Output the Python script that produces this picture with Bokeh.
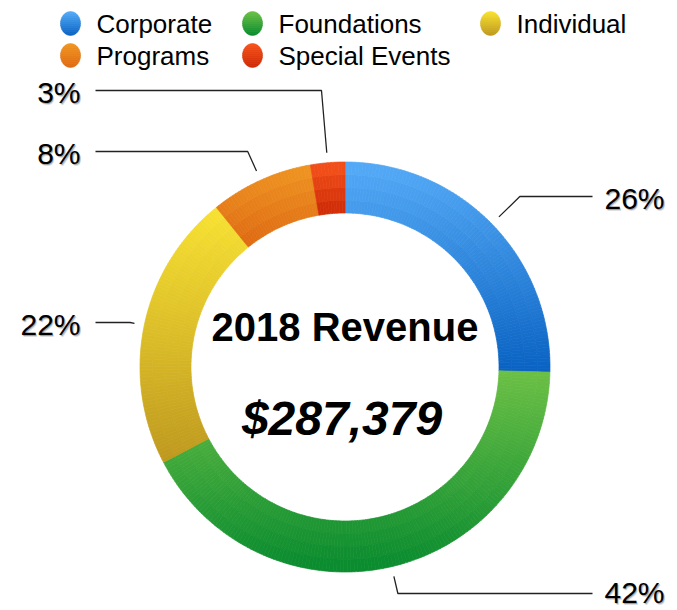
import math
import numpy as np
from bokeh.plotting import figure
from bokeh.models import Range1d
from bokeh.core.properties import value
from bokeh.embed import file_html
from bokeh.resources import INLINE

# ---------------- data ----------------
categories = ["Corporate", "Foundations", "Individual", "Programs", "Special Events"]
shares = [25.4, 41.9, 21.9, 8.1, 2.7]          # percent of 2018 revenue
pct_labels = ["26%", "42%", "22%", "8%", "3%"]
title_text = "2018 Revenue"
total_text = "$287,379"

# ---------------- styles ----------------
top_colors = ["#55ABF7", "#6CC045", "#F8E232", "#EF9622", "#F6531C"]
bottom_colors = ["#0962C2", "#078A2E", "#BE981E", "#DE6812", "#CC2805"]
FONT = "Liberation Sans"

W, H = 677, 610
CX, CY_IMG = 344.5, 366.5
R_IN, R_OUT = 154.0, 205.0
R_LEAD = 215.0

# layout of leader lines / labels (image pixel rows)
leader_y = [196, 593, 322, 151, 90]
right_end_x, right_text_x = 592, 604
left_end_x, left_text_x = 95, 80

# legend layout
legend_x = [70, 252, 490, 70, 252]
legend_y = [23, 23, 23, 55, 55]


def Y(y_img):
    return 610.0 - y_img


def hex2rgb(h):
    h = h.lstrip("#")
    return [int(h[i:i + 2], 16) for i in (0, 2, 4)]


def lerp(c1, c2, t):
    a, b = hex2rgb(c1), hex2rgb(c2)
    t = min(max(t, 0.0), 1.0)
    return "#%02x%02x%02x" % tuple(int(round(a[i] + (b[i] - a[i]) * t)) for i in range(3))


p = figure(width=W, height=H, output_backend="svg", toolbar_location=None,
           x_range=Range1d(0, W), y_range=Range1d(610 - H, 610),
           x_axis_location=None, y_axis_location=None, min_border=0,
           background_fill_color="white", border_fill_color="white")
p.grid.visible = False
p.outline_line_color = None

# ---------------- donut with vertical gradients ----------------
total = sum(shares)
angles = np.cumsum([0.0] + [s / total * 360.0 for s in shares])

xs, ys, rin, rout, sa, ea, cols = [], [], [], [], [], [], []
n_rings = 4
for i in range(len(shares)):
    t0, t1 = angles[i], angles[i + 1]
    samp = np.linspace(t0, t1, 300)
    yy = np.concatenate([CY_IMG - r * np.cos(np.radians(samp)) for r in (R_IN, R_OUT)])
    ymin, ymax = yy.min(), yy.max()
    nseg = max(2, int(math.ceil((t1 - t0) / 1.0)))
    edges = np.linspace(t0, t1, nseg + 1)
    redges = np.linspace(R_IN, R_OUT, n_rings + 1)
    for k in range(nseg):
        a0, a1 = edges[k], edges[k + 1]
        am = 0.5 * (a0 + a1)
        for j in range(n_rings):
            r0, r1 = redges[j], redges[j + 1]
            rm = 0.5 * (r0 + r1)
            y_img = CY_IMG - rm * math.cos(math.radians(am))
            c = lerp(top_colors[i], bottom_colors[i], (y_img - ymin) / (ymax - ymin))
            xs.append(CX); ys.append(Y(CY_IMG))
            rin.append(r0); rout.append(r1)
            sa.append(90.0 - a0); ea.append(90.0 - a1)
            cols.append(c)

p.annular_wedge(x=xs, y=ys, inner_radius=rin, outer_radius=rout,
                start_angle=sa, end_angle=ea, direction="clock",
                start_angle_units="deg", end_angle_units="deg",
                fill_color=cols, line_color=cols, line_width=0.7)

# ---------------- leader lines and percentage labels ----------------
for i in range(len(shares)):
    tm = math.radians(0.5 * (angles[i] + angles[i + 1]))
    sx = CX + R_LEAD * math.sin(tm)
    sy = CY_IMG - R_LEAD * math.cos(tm)
    ly = leader_y[i]
    dy = -math.cos(tm)
    t = (ly - sy) / dy if abs(dy) > 1e-6 else 0.0
    ex = sx + t * math.sin(tm)
    right = math.sin(tm) > 0
    end_x = right_end_x if right else left_end_x
    p.line([sx, ex, end_x], [Y(sy), Y(ly), Y(ly)], line_color="#222222", line_width=1.3)
    tx = right_text_x if right else left_text_x
    align = "left" if right else "right"
    cy = min(ly + 1.5, 591.5)
    for (ox, oy, al) in [(1.6, 2.4, 0.12), (0.8, 1.5, 0.28)]:
        p.text(x=[tx + ox], y=[Y(cy + oy)], text=[pct_labels[i]],
               text_font=value(FONT), text_font_size="30px", text_color="black",
               text_alpha=al, text_align=align, text_baseline="middle")
    p.text(x=[tx], y=[Y(cy)], text=[pct_labels[i]],
           text_font=value(FONT), text_font_size="30px", text_color="black",
           text_align=align, text_baseline="middle")

# ---------------- centre text ----------------
p.text(x=[CX], y=[Y(326)], text=[title_text], text_font=value(FONT),
       text_font_size="40px", text_font_style="bold", text_color="black",
       text_align="center", text_baseline="middle")
p.text(x=[CX - 3], y=[Y(418)], text=[total_text], text_font=value(FONT),
       text_font_size="48px", text_font_style="bold italic", text_color="black",
       text_align="center", text_baseline="middle")

# ---------------- legend ----------------
EW, EH = 20.0, 24.0
nb = 12
for i, name in enumerate(categories):
    lx, lyi = legend_x[i], legend_y[i]
    pxs, pys, pcs = [], [], []
    for b in range(nb):
        y0 = lyi - EH / 2 + EH * b / nb
        y1 = lyi - EH / 2 + EH * (b + 1) / nb
        yv = np.linspace(y0, y1, 5)
        half = (EW / 2) * np.sqrt(np.clip(1 - ((yv - lyi) / (EH / 2)) ** 2, 0, 1))
        px = list(lx - half) + list((lx + half)[::-1])
        py = [Y(v) for v in yv] + [Y(v) for v in yv[::-1]]
        pxs.append(px); pys.append(py)
        pcs.append(lerp(top_colors[i], bottom_colors[i], (b + 0.5) / nb))
    p.patches(xs=pxs, ys=pys, fill_color=pcs, line_color=pcs, line_width=0.6)
    p.text(x=[lx + 26], y=[Y(lyi)], text=[name], text_font=value(FONT),
           text_font_size="26px", text_color="black",
           text_align="left", text_baseline="middle")

open("out.html", "w").write(file_html(p, INLINE))
